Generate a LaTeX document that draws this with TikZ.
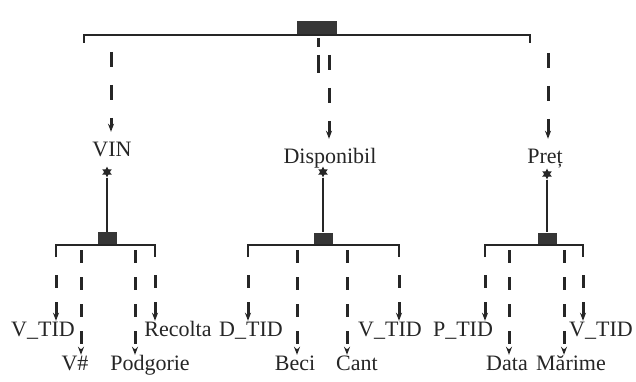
\documentclass[tikz,border=0pt]{standalone}
\usepackage{fontspec}
\setmainfont{Liberation Serif}
\usetikzlibrary{arrows.meta,shapes.geometric}
\definecolor{ink}{HTML}{262626}
\definecolor{boxfill}{HTML}{363636}

\begin{document}
\begin{tikzpicture}[x=1pt,y=-1pt,
  every node/.style={text=ink},
  bar/.style={draw=ink, line width=2pt},
  hub/.style={rectangle, fill=boxfill, draw=none, inner sep=0pt,
              minimum width=19pt, minimum height=13pt},
  roothub/.style={hub, minimum width=40pt, minimum height=14pt},
  card/.style={star, star points=6, star point ratio=1.9, fill=ink,
               draw=none, inner sep=0pt, minimum size=11pt},
  entity/.style={font=\fontsize{22}{26}\selectfont, inner sep=0pt,
                 anchor=base, text height=25pt},
  attr/.style={font=\fontsize{22}{26}\selectfont, inner sep=0pt,
               anchor=base, text height=15pt, text depth=5pt},
  toplink/.style={draw=ink, line width=3pt, dash pattern=on 15pt off 18pt,
                  -{Stealth[length=8pt,width=6pt]}},
  stublink/.style={draw=ink, line width=3pt, dash pattern=on 9pt off 8pt on 18pt off 8pt},
  sublink/.style={draw=ink, line width=3pt, dash pattern=on 13pt off 14pt,
                  -{Stealth[length=8pt,width=6pt]}},
  stem/.style={draw=ink, line width=2pt}
]
% canvas
\fill[white] (0,0) rectangle (636,382);

% ---------- root aggregate ----------
\node[roothub] (root) at (317,28) {};
\coordinate (rootL) at (84,35);
\coordinate (rootR) at (530,35);
\draw[bar] ([yshift=-8pt]rootL) -- (rootL) -- (rootR) -- ([yshift=-8pt]rootR);

% ---------- entities ----------
\node[entity] (vin)  at (112,157) {VIN};
\node[entity] (disp) at (330,164) {Disponibil};
\node[entity] (pret) at (545,164) {Preț};

\coordinate (vinTop)   at (111,52);
\coordinate (dispStub) at (318,38);
\coordinate (dispTop)  at (329,55);
\coordinate (pretTop)  at (548,53);
\draw[toplink]  (vinTop)  -- (vinTop |- vin.north);
\draw[stublink] (dispStub) -- ([yshift=-35pt]dispStub);
\draw[toplink]  (dispTop) -- (dispTop |- disp.north);
\draw[toplink]  (pretTop) -- (pretTop |- pret.north);

% ---------- cardinality marks and hubs ----------
\node[card] (card1) at (107,172) {};
\node[card] (card2) at (323,172) {};
\node[card] (card3) at (547,174) {};

\node[hub] (h1) at (107.5,238.5) {};
\node[hub] (h2) at (323.5,239) {};
\node[hub] (h3) at (547.5,239) {};

\draw[stem] (card1) -- (card1 |- h1.north);
\draw[stem] (card2) -- (card2 |- h2.north);
\draw[stem] (card3) -- (card3 |- h3.north);

% brackets under the hubs
\coordinate (b1L) at (56,245);  \coordinate (b1R) at (155,245);
\coordinate (b2L) at (248,245); \coordinate (b2R) at (399,245);
\coordinate (b3L) at (485,245); \coordinate (b3R) at (583,245);
\draw[bar] ([yshift=-12pt]b1L) -- (b1L) -- (b1R) -- ([yshift=-12pt]b1R);
\draw[bar] ([yshift=-12pt]b2L) -- (b2L) -- (b2R) -- ([yshift=-12pt]b2R);
\draw[bar] ([yshift=-12pt]b3L) -- (b3L) -- (b3R) -- ([yshift=-12pt]b3R);

% ---------- attributes of VIN ----------
\node[attr] (vtid1)   at (43,336)  {V\_TID};
\node[attr] (vnum)    at (75,370)  {V\#};
\node[attr] (podg)    at (150,370) {Podgorie};
\node[attr] (recolta) at (178,336) {Recolta};

\coordinate (s11) at (56,275);
\coordinate (s12) at (81,250);
\coordinate (s13) at (135,250);
\coordinate (s14) at (155,275);
\draw[sublink] (s11) -- (s11 |- vtid1.north);
\draw[sublink] (s12) -- (s12 |- vnum.north);
\draw[sublink] (s13) -- (s13 |- podg.north);
\draw[sublink] (s14) -- (s14 |- recolta.north);

% ---------- attributes of Disponibil ----------
\node[attr] (dtid)  at (251,336) {D\_TID};
\node[attr] (beci)  at (295,370) {Beci};
\node[attr] (cant)  at (357,370) {Cant};
\node[attr] (vtid2) at (390,336) {V\_TID};

\coordinate (s21) at (248,275);
\coordinate (s22) at (297,250);
\coordinate (s23) at (347,250);
\coordinate (s24) at (399,275);
\draw[sublink] (s21) -- (s21 |- dtid.north);
\draw[sublink] (s22) -- (s22 |- beci.north);
\draw[sublink] (s23) -- (s23 |- cant.north);
\draw[sublink] (s24) -- (s24 |- vtid2.north);

% ---------- attributes of Preț ----------
\node[attr] (ptid)   at (463,336) {P\_TID};
\node[attr] (data)   at (507,370) {Data};
\node[attr] (marime) at (571,370) {Mărime};
\node[attr] (vtid3)  at (601,336) {V\_TID};

\coordinate (s31) at (485,275);
\coordinate (s32) at (509,250);
\coordinate (s33) at (564,250);
\coordinate (s34) at (583,275);
\draw[sublink] (s31) -- (s31 |- ptid.north);
\draw[sublink] (s32) -- (s32 |- data.north);
\draw[sublink] (s33) -- (s33 |- marime.north);
\draw[sublink] (s34) -- (s34 |- vtid3.north);
\end{tikzpicture}
\end{document}
